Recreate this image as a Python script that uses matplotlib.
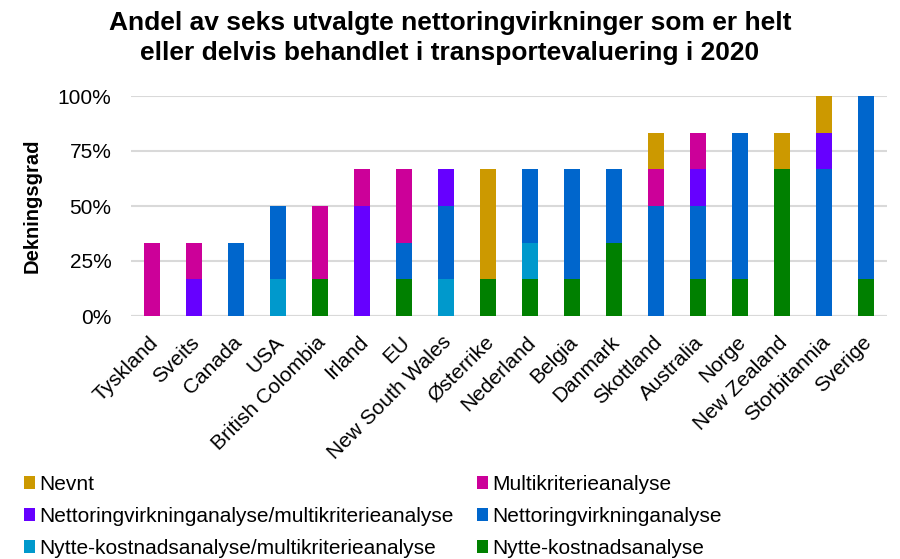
import matplotlib
matplotlib.use("Agg")
import matplotlib.pyplot as plt
import matplotlib.transforms as mtransforms
import numpy as np

plt.rcParams['font.family'] = ['Liberation Sans', 'DejaVu Sans']

countries = ["Tyskland", "Sveits", "Canada", "USA", "British Colombia", "Irland", "EU",
             "New South Wales", "Østerrike", "Nederland", "Belgia", "Danmark", "Skottland",
             "Australia", "Norge", "New Zealand", "Storbitannia", "Sverige"]

# values in number of sixths (out of six effects)
nka      = [0, 0, 0, 0, 1, 0, 1, 0, 1, 1, 1, 2, 0, 1, 1, 4, 0, 1]   # Nytte-kostnadsanalyse
nka_mka  = [0, 0, 0, 1, 0, 0, 0, 1, 0, 1, 0, 0, 0, 0, 0, 0, 0, 0]   # Nytte-kostnadsanalyse/multikriterieanalyse
nva      = [0, 0, 2, 2, 0, 0, 1, 2, 0, 2, 3, 2, 3, 2, 4, 0, 4, 5]   # Nettoringvirkninganalyse
nva_mka  = [0, 1, 0, 0, 0, 3, 0, 1, 0, 0, 0, 0, 0, 1, 0, 0, 1, 0]   # Nettoringvirkninganalyse/multikriterieanalyse
mka      = [2, 1, 0, 0, 2, 1, 2, 0, 0, 0, 0, 0, 1, 1, 0, 0, 0, 0]   # Multikriterieanalyse
nevnt    = [0, 0, 0, 0, 0, 0, 0, 0, 3, 0, 0, 0, 1, 0, 0, 1, 1, 0]   # Nevnt

series = [
    ("Nytte-kostnadsanalyse", nka, "#008000"),
    ("Nytte-kostnadsanalyse/multikriterieanalyse", nka_mka, "#0099CC"),
    ("Nettoringvirkninganalyse", nva, "#0066CC"),
    ("Nettoringvirkninganalyse/multikriterieanalyse", nva_mka, "#6600FF"),
    ("Multikriterieanalyse", mka, "#CC0099"),
    ("Nevnt", nevnt, "#CC9900"),
]

W, H = 900, 559
fig = plt.figure(figsize=(W / 100, H / 100), dpi=100)
ax = fig.add_axes([131 / W, 1 - 316 / H, (887 - 131) / W, (316 - 96) / H])

x = np.arange(len(countries))
bottom = np.zeros(len(countries))
handles = {}
for name, vals, col in series:
    v = np.array(vals) / 6.0
    h = ax.bar(x, v, bottom=bottom, width=0.36, color=col, label=name, zorder=3)
    handles[name] = h
    bottom += v

ax.set_xlim(-0.5, len(countries) - 0.5)
ax.set_ylim(0, 1)
ax.set_yticks([0, 0.25, 0.5, 0.75, 1.0])
ax.set_yticklabels(["0%", "25%", "50%", "75%", "100%"], fontsize=15)
ax.yaxis.grid(True, color="#D9D9D9", linewidth=1.5, zorder=0)
ax.set_axisbelow(True)
for s in ax.spines.values():
    s.set_visible(False)
ax.tick_params(axis='both', length=0)
ax.tick_params(axis='y', pad=14)
ax.set_xticks(x)
ax.set_xticklabels(countries, rotation=45, ha='right', va='top', rotation_mode='anchor', fontsize=15)
ax.tick_params(axis='x', pad=12)
offset = mtransforms.ScaledTranslation(-4 / 100, 0, fig.dpi_scale_trans)
for lbl in ax.get_xticklabels():
    lbl.set_transform(lbl.get_transform() + offset)
ax.axhline(0, color="#D9D9D9", linewidth=1.5, zorder=1)

ax.set_ylabel("Dekningsgrad", fontsize=14.5, fontweight='bold', labelpad=12)

fig.text(0.5, 1 - 30 / H, "Andel av seks utvalgte nettoringvirkninger som er helt",
         ha='center', va='baseline', fontsize=19, fontweight='bold')
fig.text(0.5, 1 - 60 / H, "eller delvis behandlet i transportevaluering i 2020",
         ha='center', va='baseline', fontsize=19, fontweight='bold')

order = ["Nevnt", "Nettoringvirkninganalyse/multikriterieanalyse",
         "Nytte-kostnadsanalyse/multikriterieanalyse",
         "Multikriterieanalyse", "Nettoringvirkninganalyse", "Nytte-kostnadsanalyse"]
fig.legend([handles[n] for n in order], order, loc='upper left',
           bbox_to_anchor=(24 / W, 1 - 475 / H),
           ncol=2, frameon=False, fontsize=15, handlelength=0.55, handleheight=0.55,
           handletextpad=0.2, columnspacing=1.1, labelspacing=0.62, borderaxespad=0,
           borderpad=0)

fig.savefig("out.png", dpi=100)
